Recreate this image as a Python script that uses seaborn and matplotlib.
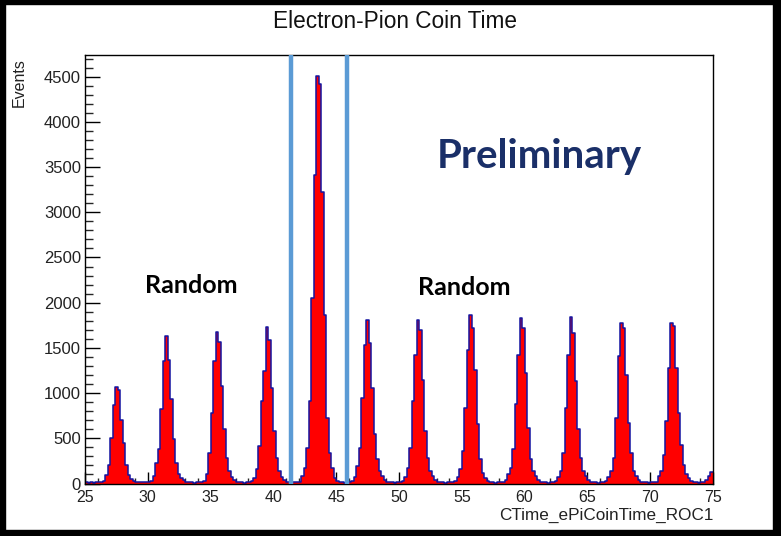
import numpy as np
import pandas as pd
import matplotlib
matplotlib.use("Agg")
import matplotlib.pyplot as plt
import seaborn as sns
from matplotlib.ticker import MultipleLocator
from matplotlib.patches import Rectangle

# ---------------- data ----------------
x_min, x_max, bin_width = 25.0, 75.0, 0.2

# counts per 0.2 ns bin, from 25.0 to 75.0 (250 bins)
counts = [
    # 25.0 - 26.8
    12, 10, 14, 11, 13, 12, 15,
    # peak ~27.5
    30, 90, 200, 500, 870, 1065, 1035, 705, 450, 210, 90, 50,
    30, 20, 15, 12, 15, 12, 18,
    # peak ~31.5
    30, 85, 230, 380, 820, 1350, 1635, 1370, 930, 490, 230, 100, 60, 35,
    20, 14, 12, 10, 13, 15, 18,
    # peak ~35.5
    30, 100, 340, 780, 1350, 1680, 1570, 1075, 600, 285, 140, 70, 35,
    20, 15, 12, 10, 12, 14, 25,
    # peak ~39.5
    60, 155, 415, 910, 1240, 1735, 1590, 1055, 580, 285, 140, 70,
    35, 20, 15, 12, 14, 12, 20,
    # peak ~43.5 (in-time)
    80, 175, 395, 910, 2050, 3410, 4510, 4420, 3225, 1865, 725, 340, 175, 65,
    30, 18, 12, 10, 12, 15,
    # peak ~47.5
    30, 70, 195, 395, 945, 1535, 1810, 1555, 1055, 545, 270, 140, 80, 40,
    20, 14, 12, 10, 12, 15,
    # peak ~51.5
    30, 75, 175, 395, 910, 1425, 1810, 1700, 1150, 580, 285, 140, 80, 40,
    20, 15, 12, 10, 12, 13, 16,
    # peak ~55.7
    30, 75, 155, 360, 835, 1480, 1865, 1720, 1260, 655, 270, 120, 60,
    30, 18, 12, 10, 12, 15, 18,
    # peak ~59.7
    35, 100, 175, 380, 875, 1425, 1830, 1720, 1225, 615, 270, 140, 80, 40,
    20, 14, 12, 10, 12, 15,
    # peak ~63.7
    30, 75, 140, 340, 835, 1425, 1845, 1665, 1130, 600, 285, 140, 80,
    40, 20, 14, 12, 10, 12, 15, 25,
    # peak ~67.7
    75, 140, 285, 725, 1405, 1775, 1720, 1205, 670, 340, 140, 80,
    40, 20, 14, 12, 10, 12, 15, 20,
    # peak ~71.7
    80, 140, 320, 690, 1280, 1775, 1740, 1280, 780, 430, 210, 100, 60,
    # 73.0 - 75.0
    30, 18, 12, 10, 12, 14, 40, 80, 125,
]

bin_edges = [round(x_min + i * bin_width, 3) for i in range(251)]
bin_centers = [(a + b) / 2 for a, b in zip(bin_edges[:-1], bin_edges[1:])]
n = min(len(counts), len(bin_centers))
df = pd.DataFrame({"ctime": bin_centers[:n], "events": counts[:n]})

cut_lines = [41.4, 45.85]

title = "Electron-Pion Coin Time"
x_title = "CTime_ePiCoinTime_ROC1"
y_title = "Events"
annotations = [("Random", 33.45, 2190), ("Random", 55.2, 2170)]
prelim = ("Preliminary", 61.15, 3620)

# ---------------- figure ----------------
sns.set_theme(style="white")
plt.rcParams["font.family"] = ["Liberation Sans", "DejaVu Sans"]

W, H = 781, 536
AX_L, AX_R, AX_T, AX_B = 85, 713, 55, 483.5
fig = plt.figure(figsize=(W / 100, H / 100), dpi=100)
fig.patch.set_facecolor("white")
ax = fig.add_axes([AX_L / W, 1 - AX_B / H, (AX_R - AX_L) / W, (AX_B - AX_T) / H])

sns.histplot(data=df, x="ctime", weights="events", bins=bin_edges,
             element="bars", fill=True, color="#ff0000", alpha=1,
             linewidth=0, ax=ax)
sns.histplot(data=df, x="ctime", weights="events", bins=bin_edges,
             element="step", fill=False, color="#1414a0", linewidth=1.1,
             ax=ax)

for xc in cut_lines:
    ax.axvline(xc, color="#5b9bd5", linewidth=3.2, zorder=5)

ax.set_xlim(x_min, x_max)
ax.set_ylim(0, 4740)
ax.xaxis.set_major_locator(MultipleLocator(5))
ax.xaxis.set_minor_locator(MultipleLocator(1))
ax.yaxis.set_major_locator(MultipleLocator(500))
ax.yaxis.set_minor_locator(MultipleLocator(100))
ax.tick_params(axis="x", which="major", direction="in", length=9, width=1,
               labelsize=11.5, pad=5, color="black", bottom=True, top=False)
ax.tick_params(axis="x", which="minor", direction="in", length=4.5, width=1,
               bottom=True, top=False)
ax.tick_params(axis="y", which="major", direction="in", length=11, width=1,
               labelsize=12, pad=3, color="black", left=True, right=False)
ax.tick_params(axis="y", which="minor", direction="in", length=5.8, width=1,
               left=True, right=False)
for lab in ax.get_xticklabels() + ax.get_yticklabels():
    lab.set_color("#222222")
ax.set_xlabel("")
ax.set_ylabel("")
for sp in ax.spines.values():
    sp.set_visible(True)
    sp.set_color("black")
    sp.set_linewidth(1.0)
ax.grid(False)

fig.text(395 / W, 1 - 21 / H, title, ha="center", va="center", fontsize=16.3,
         color="#111111")
fig.text(713 / W, 1 - 515 / H, x_title, ha="right", va="center", fontsize=12.3,
         color="#222222")
fig.text(19 / W, 1 - 58 / H, y_title, ha="center", va="top", rotation=90,
         fontsize=11.5, color="#222222")

for txt, xv, yv in annotations:
    ax.text(xv, yv, txt, ha="center", va="center", fontsize=18,
            fontweight="bold", family=["Lato", "DejaVu Sans"], color="black",
            zorder=6)
ax.text(prelim[1], prelim[2], prelim[0], ha="center", va="center",
        fontsize=29, fontweight="bold", family=["Lato", "DejaVu Sans"],
        color="#1a2f68", zorder=6)

# dark screen border
for (x0, y0, w, h) in [(0, 0, 5, H), (W - 8, 0, 8, H), (0, 0, W, 4), (0, H - 6, W, 6)]:
    fig.patches.append(Rectangle((x0 / W, 1 - (y0 + h) / H), w / W, h / H,
                                 transform=fig.transFigure, color="black",
                                 zorder=10))

fig.savefig("out.png", dpi=100, facecolor="white")
